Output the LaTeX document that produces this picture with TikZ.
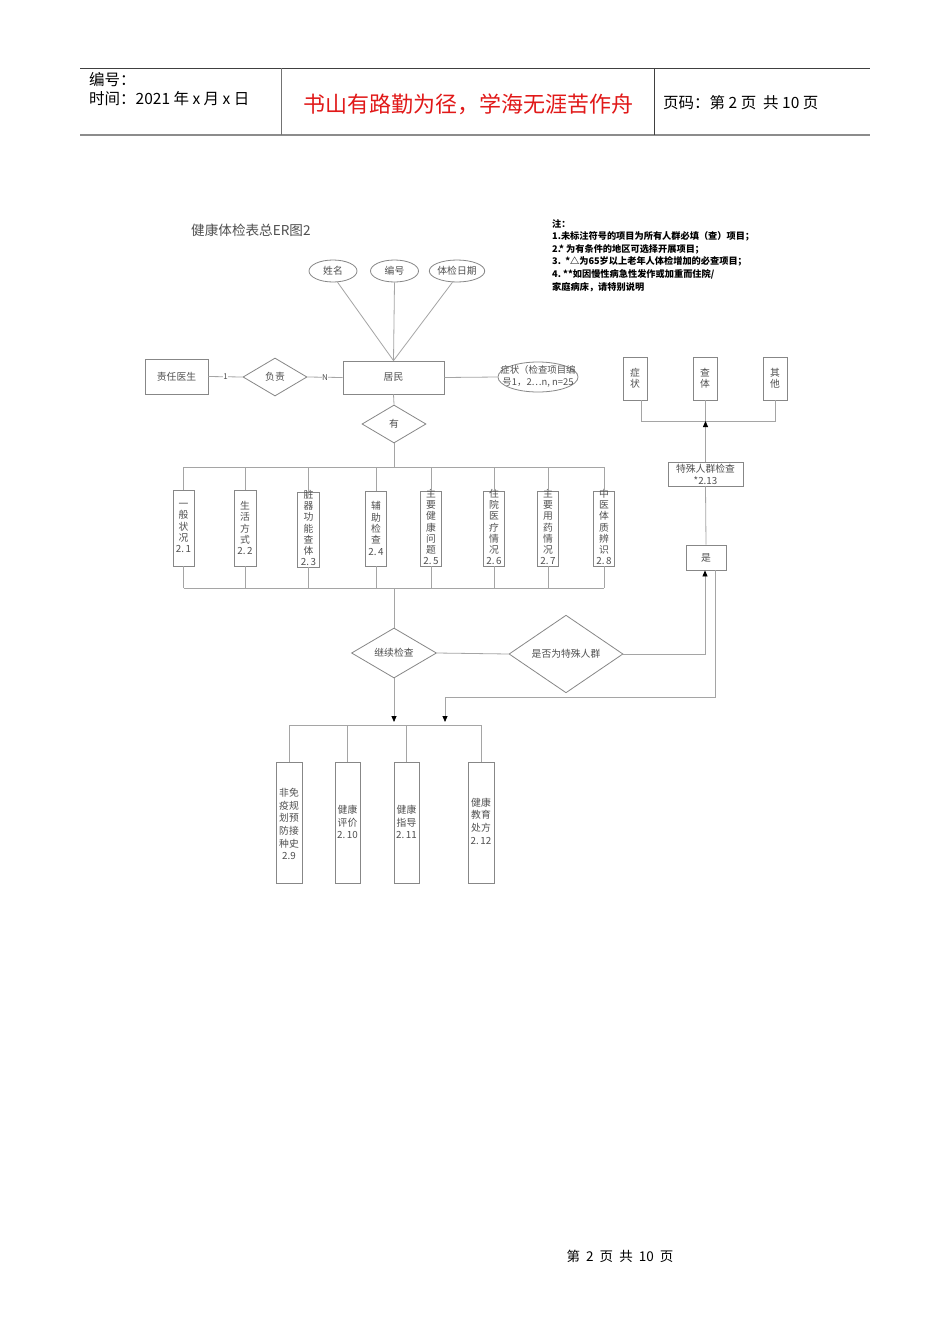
\documentclass[tikz,border=0pt]{standalone}
\usepackage{fontspec}
\setmainfont{Noto Sans CJK SC}
\usetikzlibrary{shapes.geometric,arrows.meta}
\definecolor{ln}{RGB}{165,165,165}
\definecolor{bx}{RGB}{135,135,135}
\definecolor{tx}{RGB}{80,80,80}
\definecolor{hdr}{RGB}{225,25,25}
\begin{document}
\begin{tikzpicture}[x=1pt,y=-1pt,
  conn/.style={draw=ln, line width=0.8pt},
  arr/.style={draw=ln, line width=0.8pt, -{Triangle[length=6pt,width=5pt,fill=black,color=black]}},
  box/.style={draw=bx, line width=0.8pt, rectangle, inner sep=0pt},
  ell/.style={draw=bx, line width=0.8pt, ellipse, inner sep=0pt},
  dia/.style={draw=bx, line width=0.8pt, diamond, inner sep=0pt},
  dtxt/.style={text=tx, font=\fontsize{9.8}{11.3}\selectfont, align=center, inner sep=0pt},
  wtxt/.style={text=tx, font=\fontsize{9.8}{12.7}\selectfont, align=center, inner sep=0pt},
  lab/.style={text=tx, font=\fontsize{8}{9}\selectfont, fill=white, inner sep=0.6pt},
  htxt/.style={font=\fontsize{15.5}{18}\selectfont, anchor=west, inner sep=0pt}
]
\fill[white] (0,0) rectangle (950,1344);
\useasboundingbox (0,0) rectangle (950,1344);

% header frame
\draw[line width=0.9pt, black!75] (80,68) -- (870,68);
\draw[line width=1.8pt, black!45] (80,135) -- (870,135);
\draw[line width=0.8pt, black!55] (281,68) -- (281,135);
\draw[line width=0.8pt, black!75] (654,68) -- (654,135);
\node[htxt] (h1) at (89,80) {编号：};
\node[htxt] (h2) at (89,99) {时间：2021 年 x 月 x 日};
\node[text=hdr, font=\fontsize{22}{24}\selectfont, inner sep=0pt] (h3) at (468,104) {书山有路勤为径，学海无涯苦作舟};
\node[htxt] (h4) at (663,103) {页码：第 2 页\ \ 共 10 页};

% title and notes
\node[anchor=west, text=tx, font=\fontsize{13.6}{15}\selectfont, inner sep=0pt] (title) at (191,230) {健康体检表总ER图2};
\node[anchor=north west, align=left, font=\fontsize{9.2}{12.6}\selectfont\bfseries, inner sep=0pt] (notes) at (552,219) {注：\\1.未标注符号的项目为所有人群必填（查）项目；\\2.* 为有条件的地区可选择开展项目；\\3.\ \ *△为65岁以上老年人体检增加的必查项目；\\4.\ **如因慢性病急性发作或加重而住院/\\家庭病床，请特别说明};

% attributes
\node[ell, minimum width=48pt, minimum height=22pt, dtxt] (e1) at (333,271) {姓名};
\node[ell, minimum width=48pt, minimum height=22pt, dtxt] (e2) at (394.5,271) {编号};
\node[ell, minimum width=48pt, minimum height=22pt, dtxt] (e3) at (457,271) {体检日期};

% main row
\node[box, minimum width=63pt, minimum height=35pt, dtxt] (ys) at (176.5,376.5) {责任医生};
\node[dia, minimum width=64pt, minimum height=38pt, dtxt] (fz) at (275,377) {负责};
\node[box, minimum width=101pt, minimum height=33pt, dtxt] (jm) at (393.5,377.5) {居民};
\node[ell, minimum width=80pt, minimum height=30pt] (ez) at (538,377) {};
\node[dtxt, font=\fontsize{9.4}{11.5}\selectfont] (ezt) at (538,376.5) {症状（检查项目编\\号1，2…n, n=25};
\node[dia, minimum width=64pt, minimum height=38pt, dtxt] (you) at (394,424) {有};

\draw[conn] (e1.-68) -- (jm.north);
\draw[conn] (e2.south) -- (jm.north);
\draw[conn] (e3.-112) -- (jm.north);
\draw[conn] (ys.east) -- node[lab]{1} (fz.west);
\draw[conn] (fz.east) -- node[lab]{N} (jm.west);
\draw[conn] (jm.east) -- (ez.west);

% eight categories
\node[box, minimum width=21pt, minimum height=76pt] (b1) at (183.5,528) {};
\node[box, minimum width=22pt, minimum height=76pt] (b2) at (245,528) {};
\node[box, minimum width=22pt, minimum height=75pt] (b3) at (308.5,529.5) {};
\node[box, minimum width=21pt, minimum height=75pt] (b4) at (376,528.5) {};
\node[box, minimum width=21pt, minimum height=75pt] (b5) at (431,528.5) {};
\node[box, minimum width=21pt, minimum height=75pt] (b6) at (494,528.5) {};
\node[box, minimum width=21pt, minimum height=75pt] (b7) at (548,528.5) {};
\node[box, minimum width=21pt, minimum height=75pt] (b8) at (604,528.5) {};
\node[dtxt] (b1t) at (b1) {一\\般\\状\\况\\2.\,1};
\node[dtxt] (b2t) at (b2) {生\\活\\方\\式\\2.\,2};
\node[dtxt] (b3t) at ([yshift=1.5pt]b3.center) {脏\\器\\功\\能\\查\\体\\2.\,3};
\node[dtxt] (b4t) at (b4) {辅\\助\\检\\查\\2.\,4};
\node[dtxt] (b5t) at ([yshift=1.5pt]b5.center) {主\\要\\健\\康\\问\\题\\2.\,5};
\node[dtxt] (b6t) at ([yshift=1.5pt]b6.center) {住\\院\\医\\疗\\情\\况\\2.\,6};
\node[dtxt] (b7t) at ([yshift=1.5pt]b7.center) {主\\要\\用\\药\\情\\况\\2.\,7};
\node[dtxt] (b8t) at ([yshift=1.5pt]b8.center) {中\\医\\体\\质\\辨\\识\\2.\,8};

\coordinate (t0) at (394,467);
\coordinate (t1) at (394,588);
\draw[conn] (jm.south) -- (you.north);
\draw[conn] (you.south) -- (t0);
\draw[conn] (b1.north |- t0) -- (b8.north |- t0);
\draw[conn] (b1.south |- t1) -- (b8.south |- t1);
\foreach \b in {b1,b2,b3,b4,b5,b6,b7,b8}{
  \draw[conn] (\b.north |- t0) -- (\b.north);
  \draw[conn] (\b.south) -- (\b.south |- t1);
}

% decisions
\node[dia, minimum width=85pt, minimum height=50pt, dtxt] (jx) at (394,653) {继续检查};
\node[dia, minimum width=114pt, minimum height=52pt, dtxt] (sf) at (566,654) {是否为特殊人群};
\draw[conn] (t1) -- (jx.north);
\draw[conn] (jx.east) -- (sf.west);

% special group branch
\node[box, minimum width=24pt, minimum height=43pt, dtxt] (r1) at (635,378.5) {症\\状};
\node[box, minimum width=24pt, minimum height=43pt, dtxt] (r2) at (705,378.5) {查\\体};
\node[box, minimum width=24pt, minimum height=43pt, dtxt] (r3) at (775,378.5) {其\\他};
\node[box, minimum width=75pt, minimum height=24pt, dtxt, font=\fontsize{9.8}{12}\selectfont] (sp) at (705.5,474) {特殊人群检查\\*2.13};
\node[box, minimum width=40pt, minimum height=25pt, dtxt] (yes) at (706,557.5) {是};
\coordinate (rb) at (706,421);
\draw[conn] ([xshift=6pt]r1.south) -- ([xshift=6pt]r1.south |- rb) -- (r3.south |- rb) -- (r3.south);
\draw[conn] (r2.south) -- (r2.south |- rb);
\draw[arr] (sp.north) -- (sp.north |- rb);
\draw[conn] (yes.north) -- (sp.south);
\coordinate (k1) at (705,654);
\draw[arr] (sf.east) -- (k1) -- (yes.south -| k1);
\coordinate (k2) at (715,697);
\coordinate (k3) at (445,697);
\coordinate (tip) at (394,722);
\draw[arr] (yes.south -| k2) -- (k2) -- (k3) -- (k3 |- tip);
\draw[arr] (jx.south) -- (tip);

% follow-up items
\node[box, minimum width=26pt, minimum height=121pt] (c1) at (289,822.5) {};
\node[box, minimum width=25pt, minimum height=121pt] (c2) at (347.5,822.5) {};
\node[box, minimum width=25pt, minimum height=121pt] (c3) at (406.5,822.5) {};
\node[box, minimum width=26pt, minimum height=121pt] (c4) at (481,822.5) {};
\node[wtxt] (c1t) at (289,824) {非免\\疫规\\划预\\防接\\种史\\2.9};
\node[wtxt] (c2t) at (347.5,822) {健康\\评价\\2.\,10};
\node[wtxt] (c3t) at (406.5,822) {健康\\指导\\2.\,11};
\node[wtxt] (c4t) at (481,821) {健康\\教育\\处方\\2.\,12};
\coordinate (bus) at (394,725);
\draw[conn] (c1.north |- bus) -- (c4.north |- bus);
\foreach \c in {c1,c2,c3,c4}{
  \draw[conn] (\c.north |- bus) -- (\c.north);
}

% footer
\node[font=\fontsize{13.5}{15}\selectfont, inner sep=0pt] (foot) at (620,1256) {第\ \ 2\ \ 页\ \ 共\ \ 10\ \ 页};
\end{tikzpicture}
\end{document}
